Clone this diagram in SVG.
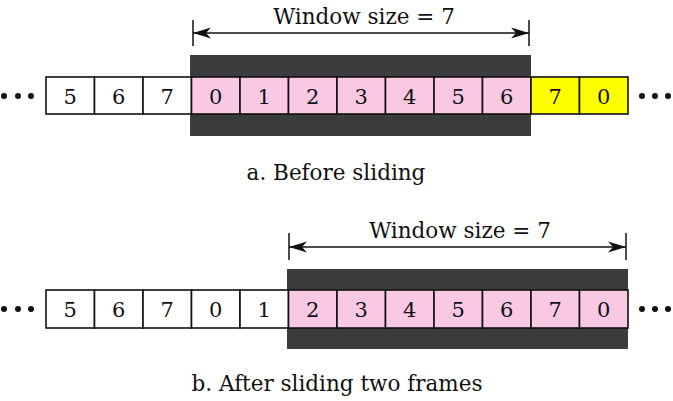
<svg xmlns="http://www.w3.org/2000/svg" width="673" height="401" viewBox="0 0 673 401">
<style>
text{font-family:"DejaVu Serif","Liberation Serif",serif;fill:#111;text-anchor:middle}
.num{font-size:21px}
.lab{font-size:21.5px}
.c{stroke:#111;stroke-width:1.6}
.w{fill:#fff}
.p{fill:#f9c8e2}
.y{fill:#ffff00}
.band{fill:#3c3c3c}
.ln{stroke:#111;stroke-width:1.5;fill:none}
</style>
<defs>
<marker id="ah" viewBox="0 0 18 12" refX="18" refY="6" markerWidth="18" markerHeight="12" markerUnits="userSpaceOnUse" orient="auto-start-reverse">
<path d="M0,0.5 L18,6 L0,11.5 L5,6 Z" fill="#111"/>
</marker>
</defs>
<rect class="band" x="190" y="55" width="341" height="81"/>
<rect class="band" x="287" y="269" width="341" height="80"/>
<g id="rowA">
<g id="a0"><rect class="c w" x="46" y="77" width="48.5" height="37"/><text class="num" x="70.2" y="103.5">5</text></g>
<g id="a1"><rect class="c w" x="94.5" y="77" width="48.5" height="37"/><text class="num" x="118.7" y="103.5">6</text></g>
<g id="a2"><rect class="c w" x="143" y="77" width="48.5" height="37"/><text class="num" x="167.2" y="103.5">7</text></g>
<g id="a3"><rect class="c p" x="191.5" y="77" width="48.5" height="37"/><text class="num" x="215.7" y="103.5">0</text></g>
<g id="a4"><rect class="c p" x="240" y="77" width="48.5" height="37"/><text class="num" x="264.2" y="103.5">1</text></g>
<g id="a5"><rect class="c p" x="288.5" y="77" width="48.5" height="37"/><text class="num" x="312.7" y="103.5">2</text></g>
<g id="a6"><rect class="c p" x="337" y="77" width="48.5" height="37"/><text class="num" x="361.2" y="103.5">3</text></g>
<g id="a7"><rect class="c p" x="385.5" y="77" width="48.5" height="37"/><text class="num" x="409.7" y="103.5">4</text></g>
<g id="a8"><rect class="c p" x="434" y="77" width="48.5" height="37"/><text class="num" x="458.2" y="103.5">5</text></g>
<g id="a9"><rect class="c p" x="482.5" y="77" width="48.5" height="37"/><text class="num" x="506.7" y="103.5">6</text></g>
<g id="a10"><rect class="c y" x="531" y="77" width="48.5" height="37"/><text class="num" x="555.2" y="103.5">7</text></g>
<g id="a11"><rect class="c y" x="579.5" y="77" width="48.5" height="37"/><text class="num" x="603.7" y="103.5">0</text></g>
</g>
<g id="rowB">
<g id="b0"><rect class="c w" x="46" y="290" width="48.5" height="38"/><text class="num" x="70.2" y="316.5">5</text></g>
<g id="b1"><rect class="c w" x="94.5" y="290" width="48.5" height="38"/><text class="num" x="118.7" y="316.5">6</text></g>
<g id="b2"><rect class="c w" x="143" y="290" width="48.5" height="38"/><text class="num" x="167.2" y="316.5">7</text></g>
<g id="b3"><rect class="c w" x="191.5" y="290" width="48.5" height="38"/><text class="num" x="215.7" y="316.5">0</text></g>
<g id="b4"><rect class="c w" x="240" y="290" width="48.5" height="38"/><text class="num" x="264.2" y="316.5">1</text></g>
<g id="b5"><rect class="c p" x="288.5" y="290" width="48.5" height="38"/><text class="num" x="312.7" y="316.5">2</text></g>
<g id="b6"><rect class="c p" x="337" y="290" width="48.5" height="38"/><text class="num" x="361.2" y="316.5">3</text></g>
<g id="b7"><rect class="c p" x="385.5" y="290" width="48.5" height="38"/><text class="num" x="409.7" y="316.5">4</text></g>
<g id="b8"><rect class="c p" x="434" y="290" width="48.5" height="38"/><text class="num" x="458.2" y="316.5">5</text></g>
<g id="b9"><rect class="c p" x="482.5" y="290" width="48.5" height="38"/><text class="num" x="506.7" y="316.5">6</text></g>
<g id="b10"><rect class="c p" x="531" y="290" width="48.5" height="38"/><text class="num" x="555.2" y="316.5">7</text></g>
<g id="b11"><rect class="c p" x="579.5" y="290" width="48.5" height="38"/><text class="num" x="603.7" y="316.5">0</text></g>
</g>
<g id="dots" fill="#111">
<circle cx="4" cy="96" r="3"/><circle cx="18" cy="96" r="3"/><circle cx="31" cy="96" r="3"/>
<circle cx="642" cy="96" r="3"/><circle cx="655" cy="96" r="3"/><circle cx="668" cy="96" r="3"/>
<circle cx="4" cy="309" r="3"/><circle cx="18" cy="309" r="3"/><circle cx="31" cy="309" r="3"/>
<circle cx="642" cy="309" r="3"/><circle cx="655" cy="309" r="3"/><circle cx="668" cy="309" r="3"/>
</g>
<g id="connectors">
<line class="ln" x1="193" y1="20" x2="193" y2="46"/>
<line class="ln" x1="529" y1="20" x2="529" y2="46"/>
<line class="ln" x1="193" y1="33" x2="529" y2="33" marker-start="url(#ah)" marker-end="url(#ah)"/>
<line class="ln" x1="289" y1="233" x2="289" y2="260"/>
<line class="ln" x1="626" y1="233" x2="626" y2="260"/>
<line class="ln" x1="289" y1="247" x2="626" y2="247" marker-start="url(#ah)" marker-end="url(#ah)"/>
</g>
<text class="lab" x="364" y="24">Window size = 7</text>
<text class="lab" x="460" y="238">Window size = 7</text>
<text class="lab" x="336" y="180">a. Before sliding</text>
<text class="lab" x="337" y="391">b. After sliding two frames</text>
</svg>
